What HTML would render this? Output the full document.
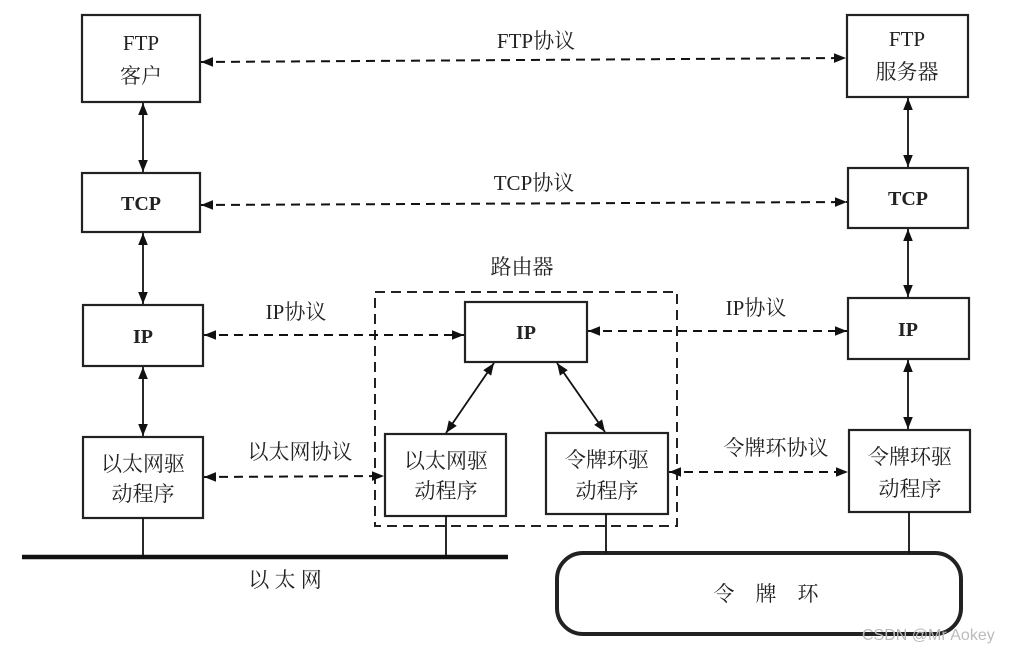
<!DOCTYPE html>
<html><head><meta charset="utf-8"><style>
html,body{margin:0;padding:0;background:#fff;}
svg{display:block;}
text{font-family:"Liberation Serif","Noto Serif CJK SC",serif;fill:#222;}
</style></head><body>
<svg width="1023" height="651" viewBox="0 0 1023 651" xmlns="http://www.w3.org/2000/svg">
<defs>
<marker id="a" viewBox="0 0 10 10" refX="10" refY="5" markerWidth="14" markerHeight="12" orient="auto-start-reverse" markerUnits="userSpaceOnUse"><path d="M0,1 L10,5 L0,9 z" fill="#111"/></marker>
</defs>
<g fill="none" stroke="#222" stroke-width="2.2">
<rect x="82" y="15" width="118" height="87"/>
<rect x="82" y="173" width="118" height="59"/>
<rect x="83" y="305" width="120" height="61"/>
<rect x="83" y="437" width="120" height="81"/>
<rect x="847" y="15" width="121" height="82"/>
<rect x="848" y="168" width="120" height="60"/>
<rect x="848" y="298" width="121" height="61"/>
<rect x="849" y="430" width="121" height="82"/>
<rect x="465" y="302" width="122" height="60"/>
<rect x="385" y="434" width="121" height="82"/>
<rect x="546" y="433" width="122" height="81"/>
<rect x="375" y="292" width="302" height="234" stroke-dasharray="10,6" stroke-width="2"/>
<rect x="557" y="553" width="404" height="81" rx="26" stroke-width="4"/>
</g>
<g stroke="#111" stroke-width="1.8" fill="none">
<line x1="22" y1="557" x2="508" y2="557" stroke-width="4.5"/>
<line x1="143" y1="518" x2="143" y2="557"/>
<line x1="446" y1="516" x2="446" y2="557"/>
<line x1="606" y1="514" x2="606" y2="553"/>
<line x1="909" y1="512" x2="909" y2="553"/>
<g marker-start="url(#a)" marker-end="url(#a)">
<line x1="143" y1="103" x2="143" y2="172"/>
<line x1="143" y1="233" x2="143" y2="304"/>
<line x1="143" y1="367" x2="143" y2="436"/>
<line x1="908" y1="98" x2="908" y2="167"/>
<line x1="908" y1="229" x2="908" y2="297"/>
<line x1="908" y1="360" x2="908" y2="429"/>
<line x1="494" y1="363" x2="446" y2="433"/>
<line x1="557" y1="363" x2="605" y2="432"/>
</g>
<g marker-start="url(#a)" marker-end="url(#a)" stroke-dasharray="9,6" stroke-width="2">
<line x1="201" y1="62" x2="846" y2="58"/>
<line x1="201" y1="205" x2="847" y2="202"/>
<line x1="204" y1="335" x2="464" y2="335"/>
<line x1="588" y1="331" x2="847" y2="331"/>
<line x1="204" y1="477" x2="384" y2="476"/>
<line x1="669" y1="472" x2="848" y2="472"/>
</g>
</g>
<g font-size="21" text-anchor="middle">
<text x="141" y="50">FTP</text><text x="141" y="83">客户</text>
<text x="141" y="210" font-weight="bold" font-size="20">TCP</text>
<text x="143" y="343" font-weight="bold" font-size="20">IP</text>
<text x="143" y="471">以太网驱</text><text x="143" y="501">动程序</text>
<text x="907" y="46">FTP</text><text x="907" y="79">服务器</text>
<text x="908" y="205" font-weight="bold" font-size="20">TCP</text>
<text x="908" y="336" font-weight="bold" font-size="20">IP</text>
<text x="910" y="464">令牌环驱</text><text x="910" y="496">动程序</text>
<text x="526" y="339" font-weight="bold" font-size="20">IP</text>
<text x="446" y="468">以太网驱</text><text x="446" y="498">动程序</text>
<text x="607" y="467">令牌环驱</text><text x="607" y="498">动程序</text>
<text x="536" y="48">FTP协议</text>
<text x="534" y="190">TCP协议</text>
<text x="522" y="274">路由器</text>
<text x="296" y="319">IP协议</text>
<text x="756" y="315">IP协议</text>
<text x="300" y="459">以太网协议</text>
<text x="776" y="455">令牌环协议</text>
<text x="285" y="587">以 太 网</text>
<text x="766" y="601">令　牌　环</text>
</g>
<text x="862" y="640" font-size="16" style="font-family:'Liberation Sans',sans-serif;fill:#bbb">CSDN @Mr  Aokey</text>
</svg>
</body></html>
